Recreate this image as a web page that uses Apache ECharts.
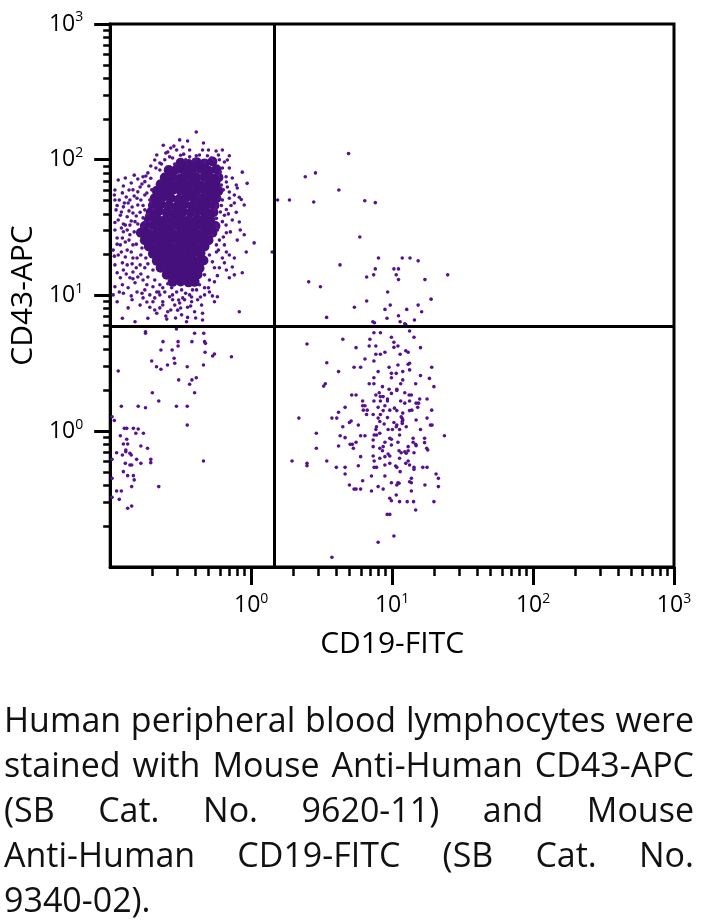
<!DOCTYPE html>
<html>
<head>
<meta charset="utf-8">
<script src="https://cdn.jsdelivr.net/npm/echarts@6/dist/echarts.min.js"></script>
<style>
  html, body { margin: 0; padding: 0; background: #fff; }
  #chart { position: absolute; left: 0; top: 0; width: 702px; height: 922px; }
  #caption { position: absolute; left: 4px; top: 697px; width: 690px;
    font-family: 'Open Sans', 'Noto Sans', sans-serif; font-size: 34px; line-height: 45px; color: #111; }
  #caption .ln { display: flex; justify-content: space-between; white-space: nowrap; }
  #caption .last { display: block; }
</style>
</head>
<body>
<div id="chart"></div>
<div id="caption"></div>
<script>
// ---- axis / ticks ----
const axisMin = 0.1;
const axisMax = 1000;
const majorTicks = [1, 10, 100, 1000];
const minorTicks = [0.2,0.3,0.4,0.5,0.6,0.7,0.8,0.9, 2,3,4,5,6,7,8,9, 20,30,40,50,60,70,80,90, 200,300,400,500,600,700,800,900];
const xTitle = 'CD19-FITC';
const yTitle = 'CD43-APC';

// ---- quadrant gates ----
const gateX = [1.47];
const gateY = [5.89];

// ---- events: [CD19-FITC, CD43-APC] ----
// dense core of the CD43+ CD19- population (solid area)
const coreEvents = [
  [0.316,95],[0.360,93],[0.410,96],[0.467,94],[0.531,97],
  [0.260,84],[0.296,85],[0.337,83],[0.384,84],[0.437,86],[0.498,83],[0.567,85],
  [0.244,74],[0.277,75],[0.316,73],[0.360,76],[0.410,74],[0.467,75],[0.531,73],[0.586,74],
  [0.228,66],[0.260,67],[0.296,65],[0.337,66],[0.384,67],[0.437,65],[0.498,66],[0.558,67],
  [0.214,59],[0.244,58],[0.277,60],[0.316,59],[0.360,58],[0.410,59],[0.467,60],[0.523,58],[0.586,59],
  [0.207,52],[0.236,53],[0.269,52],[0.306,51],[0.348,53],[0.397,52],[0.452,52],[0.506,53],[0.567,52],
  [0.201,46],[0.228,47],[0.260,46],[0.296,45],[0.337,47],[0.384,46],[0.437,46],[0.490,47],[0.549,46],
  [0.194,41],[0.221,42],[0.252,41],[0.287,40.5],[0.327,41.5],[0.372,41],[0.424,42],[0.482,41],[0.540,41],
  [0.188,36.5],[0.214,37],[0.244,36],[0.277,36.5],[0.316,37],[0.360,36],[0.410,36.5],[0.467,37],[0.514,36],
  [0.176,32.5],[0.201,33],[0.228,32.5],[0.260,32],[0.296,33],[0.337,32.5],[0.384,32],[0.437,33],[0.498,32.5],[0.558,32.5],
  [0.165,29],[0.188,28.5],[0.214,29],[0.244,29],[0.277,28.5],[0.316,29],[0.360,29],[0.410,28.5],[0.467,29],[0.531,29],
  [0.176,25.5],[0.201,26],[0.228,25.5],[0.260,25.5],[0.296,26],[0.337,25.5],[0.384,25.5],[0.437,26],[0.498,25.5],
  [0.188,23],[0.214,22.5],[0.244,23],[0.277,22.5],[0.316,23],[0.360,22.8],[0.410,22.5],[0.467,23],
  [0.201,20.3],[0.228,20.5],[0.260,20.2],[0.296,20.4],[0.337,20.1],[0.384,20.3],[0.437,20.5],
  [0.214,18],[0.244,18.2],[0.277,17.9],[0.316,18.1],[0.360,18],[0.410,17.8],[0.459,18.1],
  [0.228,16],[0.260,16.1],[0.296,15.9],[0.337,16],[0.384,16.2],[0.430,15.9],
  [0.252,14.2],[0.287,14.3],[0.327,14.1],[0.372,14.2],[0.417,14.3],
  [0.277,12.6],[0.316,12.7],[0.360,12.5],[0.397,12.6]
];
// speckled halo right around the dense core
const haloEvents = [
  [0.114,71.0],[0.128,73.4],[0.141,67.4],[0.157,72.2],[0.179,75.9],[0.124,64.1],[0.136,59.9],[0.168,66.3],
  [0.188,64.1],[0.108,59.9],[0.130,53.2],[0.148,54.1],[0.165,50.5],[0.182,56.9],[0.116,50.5],[0.126,48.0],
  [0.143,44.9],[0.157,46.4],[0.176,42.7],[0.194,48.0],[0.110,42.7],[0.120,41.2],[0.136,42.0],[0.153,38.5],
  [0.171,37.3],[0.188,39.9],[0.114,36.0],[0.124,33.6],[0.141,35.4],[0.157,33.6],[0.176,34.8],[0.108,30.4],
  [0.120,31.4],[0.132,30.4],[0.148,29.4],[0.112,23.9],[0.122,26.5],[0.136,25.6],[0.153,23.9],[0.168,22.4],
  [0.107,19.5],[0.120,20.9],[0.132,21.6],[0.145,18.9],[0.165,19.9],[0.179,18.9],[0.108,16.8],[0.143,17.1],
  [0.153,16.0],[0.185,17.1],[0.201,15.4],[0.118,13.5],[0.130,14.4],[0.145,13.3],[0.165,14.4],[0.185,13.7],
  [0.207,13.0],[0.116,10.6],[0.134,11.4],[0.176,11.0],[0.141,9.93],[0.236,11.4],[0.256,12.2],[0.221,10.6],
  [0.207,99.6],[0.225,94.6],[0.256,114],[0.277,103],[0.296,118],[0.332,110],[0.366,118],[0.391,99.6],
  [0.430,108.5],[0.459,133],[0.498,118],[0.540,99.6],[0.586,108.5],[0.625,118],[0.646,96.3],[0.269,122],
  [0.354,137.5],[0.311,140],[0.214,108.5],[0.194,89.9],[0.287,93.0],[0.467,96.3],[0.678,99.6],
  [0.605,81.3],[0.667,68.6],[0.735,73.4],[0.797,61.9],[0.615,65.2],[0.700,57.9],[0.760,48.0],[0.625,50.5],
  [0.567,45.6],[0.689,39.9],[0.605,41.2],[0.735,36.0],[0.824,34.8],[0.576,30.4],[0.635,27.0],[0.712,29.4],
  [0.797,25.6],[0.586,21.6],[0.667,20.9],[0.760,18.9],[0.625,18.9],[0.549,16.0],[0.667,15.4],[0.576,14.0],
  [0.785,65.2],[0.893,46.4],[0.837,30.4],[0.923,20.9],
  [0.277,10.1],[0.306,9.27],[0.343,10.4],[0.378,9.76],[0.410,11.0],[0.437,9.76],[0.372,8.37],[0.316,8.09],
  [0.269,7.82],[0.236,8.51],[0.207,7.82],[0.182,8.96],[0.248,7.06],[0.291,6.83],[0.404,6.83],[0.498,11.4],
  [0.531,9.93]
];
// scattered events around the CD43+ CD19- population (upper left)
const upperLeftEvents = [
  [0.238,128],[0.283,126],[0.327,124],[0.248,112],[0.408,160],[0.564,116],[0.700,107],[0.366,105],
  [0.408,107],[0.521,103],[0.231,93],[0.148,77],[0.171,75],[0.185,80],[0.211,87],[0.225,84],
  [0.865,81],[0.937,67],[0.664,75],[0.678,63],[0.760,55],[0.824,53],[0.851,51],[0.720,46],
  [0.784,41],[0.646,39],[0.664,33],[0.567,33],[0.576,31.4],[0.893,28],[1.05,24.4],[0.667,29],
  [0.700,19.9],[0.646,17.4],[0.735,16.2],[0.865,14.7],[0.760,14.2],[0.700,13.5],[0.549,12.6],
  [0.506,10.6],[0.467,10.1],[0.576,9.8],[0.549,9.0],[0.417,9.3],[0.378,9.0],[0.354,8.2],
  [0.445,8.5],[0.397,7.6],[0.452,7.4],[0.354,6.9],[0.824,7.6],[0.452,6.6],[0.348,6.4],
  [0.107,55],[0.122,57],[0.138,50.5],[0.145,60],[0.163,63],[0.112,46],[0.124,45],[0.134,48],
  [0.155,52],[0.118,39],[0.132,38],[0.145,40.5],[0.108,34.5],[0.128,33],[0.150,35],[0.108,50.5],
  [0.105,21.6],[0.118,23.6],[0.128,19.2],[0.122,17.4],[0.132,16.8],[0.112,14.7],[0.145,14.9],
  [0.157,13.7],[0.171,13.0],[0.108,11.6],[0.122,12.0],[0.150,12.4],[0.182,12.0],[0.201,11.6],
  [0.225,12.0],[0.105,10.1],[0.124,10.4],[0.155,10.6],[0.168,10.4],[0.191,10.1],[0.214,10.6],
  [0.244,10.6],[0.273,11.4],[0.296,10.6],[0.321,11.0],[0.112,9.0],[0.143,9.3],[0.171,9.6],
  [0.201,9.0],[0.236,9.0],[0.277,9.3],[0.311,8.8],[0.163,8.5],[0.134,8.1],[0.191,8.2],
  [0.225,8.1],[0.256,7.6],[0.301,7.8],[0.214,7.4],[0.122,6.8],[0.150,6.4],[0.185,6.8],
  [0.252,6.7],[0.321,7.2],
  [0.176,69],[0.194,73],[0.157,58],[0.176,55],[0.197,60],[0.171,46],[0.191,50.5],[0.163,41],
  [0.182,39],[0.201,43],[0.138,33],[0.168,32],[0.191,35],[0.124,29.5],[0.138,28],[0.112,26.5],
  [0.128,24.8],[0.145,23.6],[0.114,19.9],[0.141,20.9],[0.155,18.9],[0.124,15.4],[0.138,13.5],
  [0.176,16.0],[0.163,16.8],[0.244,100],[0.264,105],[0.452,118],[0.490,107],[0.316,108],
  [0.343,100],[0.595,100],[0.625,87],[0.586,77],[0.700,87],[0.635,60],[0.595,52],[0.700,52],
  [0.549,43],[0.615,46],[0.667,43],[0.567,37],[0.625,35],[0.531,28],[0.595,25.6],[0.567,23.6],
  [0.646,23.6],[0.506,19.9],[0.567,20.9],[0.531,17.7],[0.595,16.0],[0.467,14.2],[0.506,13.0],
  [0.430,12.0],[0.467,11.4],[0.366,10.1],[0.327,9.6],[0.384,11.0],[0.264,9.8],[0.225,10.1],
  [0.287,8.5],[0.337,9.3],[0.207,9.6],[1.41,20.9]
];
// double-negative events (lower left)
const lowerLeftEvents = [
  [0.178,5.41],[0.178,5.27],[0.237,4.57],[0.303,4.57],[0.303,4.25],[0.380,4.57],[0.467,4.57],
  [0.474,4.44],[0.229,3.97],[0.275,3.97],[0.397,5.27],[0.461,5.27],[0.295,5.66],[0.471,3.82],
  [0.549,3.71],[0.533,3.58],[0.725,3.54],[0.197,3.29],[0.284,3.45],[0.287,3.17],[0.255,3.08],
  [0.213,2.99],[0.229,2.86],[0.352,2.99],[0.459,3.08],[0.114,2.78],[0.306,2.39],[0.380,2.39],
  [0.408,2.48],[0.366,2.22],[0.199,1.92],[0.397,1.92],[0.221,1.67],[0.120,1.53],[0.158,1.53],
  [0.178,1.49],[0.295,1.53],[0.352,1.53],[0.352,1.11],[0.103,1.28],[0.107,1.20],[0.126,1.05],
  [0.131,1.05],[0.146,1.05],[0.158,1.04],[0.118,0.927],[0.152,0.966],[0.172,0.966],[0.131,0.873],
  [0.124,0.805],[0.133,0.805],[0.165,0.778],[0.184,0.749],[0.129,0.728],[0.129,0.707],[0.138,0.688],
  [0.141,0.668],[0.111,0.695],[0.122,0.668],[0.103,0.621],[0.154,0.621],[0.194,0.621],[0.194,0.587],
  [0.128,0.580],[0.138,0.564],[0.142,0.564],[0.165,0.580],[0.459,0.604],[0.124,0.504],[0.146,0.471],
  [0.148,0.438],[0.133,0.471],[0.103,0.450],[0.142,0.391],[0.221,0.391],[0.111,0.363],[0.120,0.363],
  [0.103,0.326],[0.116,0.315],[0.133,0.271],[0.142,0.281]
];
// double-positive events (upper right)
const upperRightEvents = [
  [4.91,111],[2.42,75],[2.86,80],[1.87,50.5],[2.78,48.9],[4.19,59.8],[1.54,50.5],[6.4,49.9],
  [7.6,48.3],[5.9,27],[4.27,16.8],[8.0,18.9],[11.8,18.9],[13.4,18.9],[15.3,18.0],[7.6,15.7],
  [10.3,15.7],[11.1,15.7],[6.6,13.7],[7.4,14.2],[10.7,14.2],[11.1,13.1],[17.1,13.1],[24.8,14.2],
  [9.3,10.6],[18.9,9.4],[6.6,9.1],[5.4,8.2],[9.7,8.5],[8.9,7.9],[12.7,7.9],[15.3,8.5],
  [16.2,7.6],[9.2,6.8],[11.1,7.1],[14.4,6.6],[7.3,6.4],[7.5,6.3],[11.4,6.4],[12.3,6.2],
  [12.5,6.1],[3.43,6.9],[3.1,11.6],[2.56,12.6]
];
// CD19+ CD43- events (lower right)
const lowerRightEvents = [
  [7.43,5.32],[8.26,5.32],[13.3,5.48],[9.89,4.92],[14.3,4.92],[4.47,4.76],[6.96,4.76],[2.49,4.39],
  [10.3,4.52],[11.0,4.25],[10.3,4.15],[5.55,4.13],[6.88,4.25],[7.67,4.25],[15.9,4.13],[12.5,3.92],
  [13.0,3.82],[8.26,3.69],[7.67,3.69],[8.89,3.82],[11.4,3.69],[6.42,3.41],[7.43,3.29],[3.44,3.20],
  [13.0,3.11],[13.3,3.17],[5.37,2.96],[5.98,2.96],[9.52,2.96],[11.0,3.08],[19.1,2.96],[13.3,2.83],
  [4.17,2.75],[7.96,2.75],[9.89,2.67],[10.7,2.67],[11.9,2.75],[15.9,2.57],[18.4,2.45],[9.89,2.48],
  [7.43,2.48],[11.9,2.39],[3.27,2.15],[3.36,2.24],[6.88,2.24],[7.43,2.24],[11.5,2.24],[14.7,2.24],
  [8.54,2.13],[19.8,2.13],[10.8,2.04],[10.8,2.0],[9.52,2.04],[8.1,1.92],[7.67,1.85],[5.17,1.85],
  [5.55,1.85],[9.89,1.90],[12.3,1.92],[13.2,1.85],[13.7,1.85],[8.64,1.80],[8.26,1.80],[9.27,1.73],
  [15.7,1.73],[17.7,1.73],[6.18,1.67],[7.43,1.67],[8.26,1.67],[9.27,1.67],[11.5,1.67],[12.3,1.61],
  [13.3,1.67],[14.8,1.61],[15.4,1.61],[6.18,1.54],[6.42,1.54],[8.89,1.54],[7.96,1.50],[15.2,1.50],
  [4.64,1.50],[6.25,1.43],[6.66,1.43],[8.64,1.42],[9.63,1.43],[10.4,1.48],[10.8,1.42],[13.3,1.42],
  [13.8,1.43],[19.1,1.43],[4.17,1.38],[7.34,1.33],[6.59,1.33],[8.26,1.33],[11.9,1.36],[2.18,1.25],
  [3.74,1.25],[4.05,1.25],[5.12,1.19],[4.98,1.16],[9.27,1.26],[7.96,1.25],[11.6,1.28],[11.9,1.21],
  [11.8,1.14],[11.8,1.24],[11.8,1.18],[14.8,1.21],[17.7,1.25],[8.18,1.18],[8.78,1.13],[10.3,1.16],
  [10.8,1.11],[18.7,1.11],[19.2,1.11],[4.47,1.08],[5.76,1.11],[7.75,1.08],[7.67,1.03],[9.37,1.03],
  [10.05,1.03],[10.7,1.08],[11.3,1.03],[12.6,1.08],[15.9,1.03],[2.90,0.966],[4.28,0.927],[5.98,0.927],
  [6.42,0.927],[7.46,0.938],[7.75,0.938],[8.18,0.966],[9.63,0.888],[9.89,0.873],[11.3,0.938],[14.1,0.888],
  [23.5,0.927],[4.64,0.897],[7.34,0.862],[8.89,0.829],[11.0,0.829],[14.1,0.829],[14.7,0.801],[17.0,0.888],
  [17.0,0.824],[5.55,0.829],[5.04,0.801],[5.22,0.801],[4.17,0.778],[2.90,0.749],[7.34,0.770],[8.18,0.749],
  [8.64,0.770],[9.89,0.792],[13.0,0.770],[14.8,0.783],[17.6,0.749],[17.9,0.728],[5.31,0.749],[8.54,0.719],
  [11.2,0.719],[11.6,0.695],[12.3,0.707],[12.6,0.688],[13.0,0.719],[14.3,0.695],[9.37,0.680],[9.63,0.657],
  [7.34,0.657],[5.98,0.650],[8.18,0.632],[8.89,0.650],[11.3,0.632],[1.95,0.604],[2.49,0.580],[2.49,0.557],
  [3.44,0.604],[7.46,0.604],[8.89,0.564],[9.63,0.580],[12.5,0.580],[13.0,0.604],[13.3,0.564],[10.6,0.555],
  [10.8,0.542],[4.02,0.542],[4.64,0.542],[5.76,0.557],[7.46,0.542],[7.75,0.542],[14.3,0.542],[14.3,0.524],
  [16.5,0.542],[17.7,0.542],[11.4,0.504],[8.89,0.468],[7.14,0.468],[4.64,0.484],[13.7,0.450],[13.3,0.425],
  [20.5,0.484],[21.3,0.450],[6.18,0.432],[9.89,0.418],[11.0,0.418],[10.8,0.402],[13.7,0.418],[4.98,0.402],
  [11.2,0.414],[17.1,0.402],[7.96,0.391],[21.3,0.391],[5.37,0.375],[5.55,0.375],[5.98,0.375],[8.64,0.375],
  [7.14,0.363],[13.7,0.363],[10.7,0.339],[9.63,0.321],[9.89,0.308],[11.3,0.303],[12.8,0.303],[14.2,0.303],
  [19.8,0.303],[14.7,0.263],[9.23,0.244],[9.63,0.244],[10.3,0.169],[7.96,0.152],[3.74,0.118]
];

// caption lines
const captionLines = [
  'Human peripheral blood lymphocytes were',
  'stained with Mouse Anti-Human CD43-APC',
  '(SB Cat. No. 9620-11) and Mouse',
  'Anti-Human CD19-FITC (SB Cat. No.',
  '9340-02).'
];

// ---- caption (justified lines) ----
const cap = document.getElementById('caption');
captionLines.forEach(function (line, i) {
  const d = document.createElement('div');
  if (i < captionLines.length - 1) {
    d.className = 'ln';
    line.split(' ').forEach(function (w) {
      const s = document.createElement('span');
      s.textContent = w;
      d.appendChild(s);
    });
  } else {
    d.className = 'last';
    d.textContent = line;
  }
  cap.appendChild(d);
});

// ---- chart ----
const FONT = "'Open Sans', 'Noto Sans', sans-serif";
const dotColor = '#561190';
const coreColor = '#46107c';
function powLabel(v) {
  const e = Math.round(Math.log10(v));
  return '{b|10}{s|' + e + '}';
}
const richLabel = {
  b: { fontSize: 23, fontFamily: FONT, color: '#000', lineHeight: 27, verticalAlign: 'middle' },
  s: { fontSize: 14, fontFamily: FONT, color: '#000', lineHeight: 14, verticalAlign: 'top' }
};
function majorAxis(isX) {
  return {
    type: 'log', logBase: 10, min: axisMin, max: axisMax,
    position: isX ? 'bottom' : 'left',
    name: isX ? xTitle : yTitle,
    nameLocation: 'middle',
    nameGap: isX ? 62 : 70,
    nameTextStyle: { fontFamily: FONT, fontSize: 30, color: '#000', lineHeight: 30 },
    axisLine: { show: true, lineStyle: { color: '#000', width: 3 } },
    axisTick: { show: true, inside: false, length: isX ? 18 : 16, customValues: majorTicks,
      lineStyle: { color: '#000', width: 3 } },
    axisLabel: { show: true, customValues: majorTicks, formatter: powLabel, rich: richLabel,
      margin: isX ? 25 : 27 },
    splitLine: { show: false },
    minorTick: { show: false }
  };
}
function minorAxis(isX) {
  return {
    type: 'log', logBase: 10, min: axisMin, max: axisMax,
    position: isX ? 'bottom' : 'left',
    axisLine: { show: false },
    axisTick: { show: true, inside: false, length: isX ? 9 : 7, customValues: minorTicks,
      lineStyle: { color: '#000', width: 2.5 } },
    axisLabel: { show: false },
    splitLine: { show: false }
  };
}
function dots(name, data) {
  return { type: 'scatter', name: name, xAxisIndex: 0, yAxisIndex: 0, data: data,
    symbol: 'circle', symbolSize: 3.6, itemStyle: { color: dotColor, opacity: 1 }, silent: true };
}

const chart = echarts.init(document.getElementById('chart'), null, { renderer: 'canvas' });
const gateSeries = dots('CD43- CD19+', lowerRightEvents);
gateSeries.markLine = {
  silent: true, symbol: ['none', 'none'], label: { show: false },
  lineStyle: { color: '#000', width: 3, type: 'solid', opacity: 1 },
  emphasis: { disabled: true },
  data: [{ xAxis: gateX[0] }, { yAxis: gateY[0] }]
};
chart.setOption({
  animation: false,
  backgroundColor: '#fff',
  grid: { left: 105, top: 24, width: 569, height: 543, show: true,
    borderColor: '#000', borderWidth: 3, backgroundColor: 'transparent' },
  xAxis: [majorAxis(true), minorAxis(true)],
  yAxis: [majorAxis(false), minorAxis(false)],
  series: [
    { type: 'scatter', name: 'core', xAxisIndex: 0, yAxisIndex: 0, data: coreEvents,
      symbol: 'circle', symbolSize: 10, itemStyle: { color: coreColor, opacity: 1 }, silent: true },
    dots('halo', haloEvents),
    dots('CD43+ CD19-', upperLeftEvents),
    dots('CD43- CD19-', lowerLeftEvents),
    dots('CD43+ CD19+', upperRightEvents),
    gateSeries
  ]
});
</script>
</body>
</html>
